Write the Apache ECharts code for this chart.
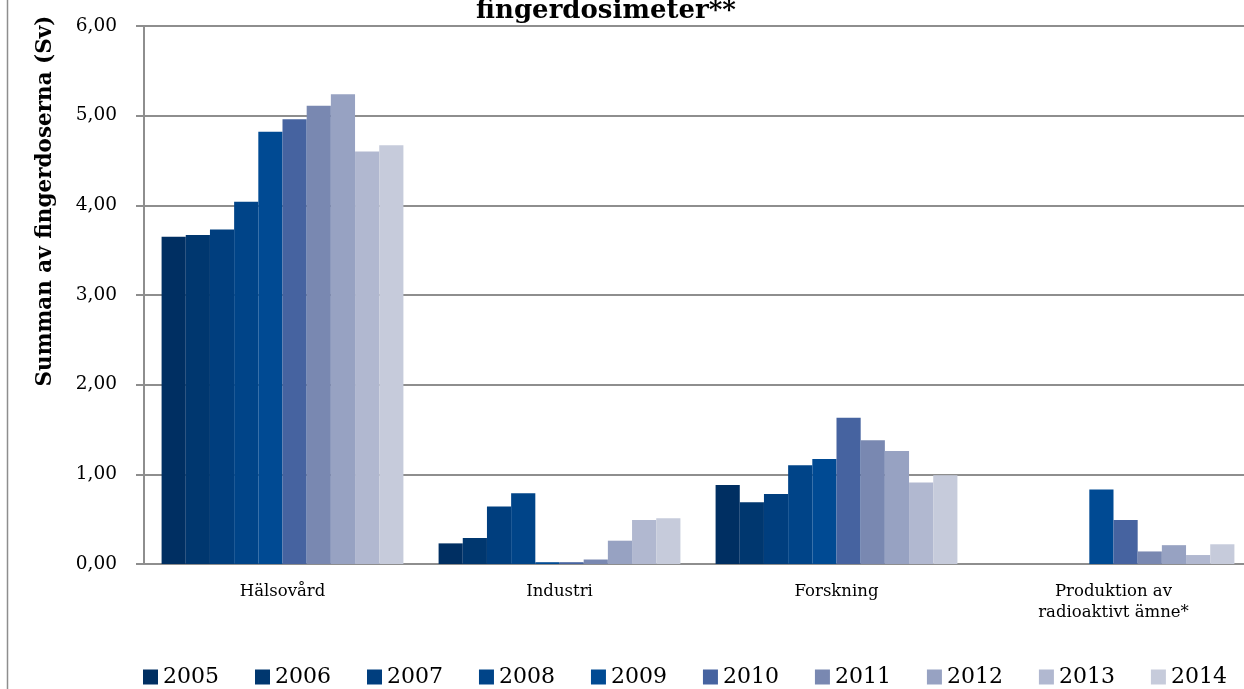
<!DOCTYPE html>
<html>
<head>
<meta charset="utf-8">
<script src="https://cdn.jsdelivr.net/npm/echarts@6/dist/echarts.min.js"></script>
<style>
  html, body { margin: 0; padding: 0; background: #fff; }
  #chart { width: 1244px; height: 689px; }
</style>
</head>
<body>
<div id="chart"></div>
<script>
// kategorier och år
const categories = ['Hälsovård', 'Industri', 'Forskning', 'Produktion av\nradioaktivt ämne*'];
const years = ['2005', '2006', '2007', '2008', '2009', '2010', '2011', '2012', '2013', '2014'];

// summan av fingerdoserna (Sv) per kategori, 2005-2014
const halsovard = [3.65, 3.67, 3.73, 4.04, 4.82, 4.96, 5.11, 5.24, 4.60, 4.67];
const industri = [0.23, 0.29, 0.64, 0.79, 0.02, 0.02, 0.05, 0.26, 0.49, 0.51];
const forskning = [0.88, 0.69, 0.78, 1.10, 1.17, 1.63, 1.38, 1.26, 0.91, 0.99];
const produktion = [0, 0, 0, 0, 0.83, 0.49, 0.14, 0.21, 0.10, 0.22];

const yTicks = [0, 1, 2, 3, 4, 5, 6];

const colors = ['#002f62', '#00376f', '#003e7e', '#004488', '#004a93',
                '#4663a0', '#7988b1', '#97a2c2', '#b1b8d0', '#c6cbdb'];

const serif = 'DejaVu Serif';
const grey = '#8e8e8e';

const chart = echarts.init(document.getElementById('chart'));

const rows = [halsovard, industri, forskning, produktion];
const series = years.map((y, i) => ({
  name: y,
  type: 'bar',
  barGap: '0%',
  barCategoryGap: '12.7%',
  itemStyle: { color: colors[i] },
  data: rows.map(r => r[i])
}));

const option = {
  animation: false,
  color: colors,
  textStyle: { fontFamily: serif },
  grid: { left: 144, right: -8, top: 26, bottom: 125, outerBoundsMode: 'none' },
  xAxis: {
    type: 'category',
    data: categories,
    axisLine: { lineStyle: { color: grey, width: 2 } },
    axisTick: { length: 8, lineStyle: { color: grey, width: 2 } },
    axisLabel: { fontFamily: serif, fontSize: 16.5, color: '#000', margin: 17, lineHeight: 21 }
  },
  yAxis: {
    type: 'value',
    min: yTicks[0],
    max: yTicks[yTicks.length - 1],
    interval: 1,
    axisLine: { show: true, lineStyle: { color: grey, width: 2 } },
    axisTick: { show: true, length: 8, lineStyle: { color: grey, width: 2 } },
    splitLine: { lineStyle: { color: grey, width: 2 } },
    axisLabel: {
      fontFamily: serif, fontSize: 18.5, color: '#000', margin: 27,
      formatter: v => v.toFixed(2).replace('.', ',')
    }
  },
  legend: {
    data: years,
    left: 138,
    top: 661,
    icon: 'rect',
    itemWidth: 15,
    itemHeight: 15,
    itemGap: 36,
    textStyle: { fontFamily: serif, fontSize: 22, color: '#000' }
  },
  graphic: [
    {
      type: 'line',
      shape: { x1: 7.5, y1: 0, x2: 7.5, y2: 689 },
      style: { stroke: grey, lineWidth: 1.5 }
    },
    {
      type: 'text',
      x: 606, y: 24,
      style: {
        text: 'fingerdosimeter**',
        font: 'bold 26px "DejaVu Serif"',
        fill: '#000',
        textAlign: 'center',
        textVerticalAlign: 'bottom'
      }
    },
    {
      type: 'text',
      x: 45, y: 201,
      rotation: Math.PI / 2,
      style: {
        text: 'Summan av fingerdoserna (Sv)',
        font: 'bold 21.5px "DejaVu Serif"',
        fill: '#000',
        textAlign: 'center',
        textVerticalAlign: 'middle'
      }
    }
  ],
  series: series
};

chart.setOption(option);
window.addEventListener('resize', () => chart.resize());
</script>
</body>
</html>
